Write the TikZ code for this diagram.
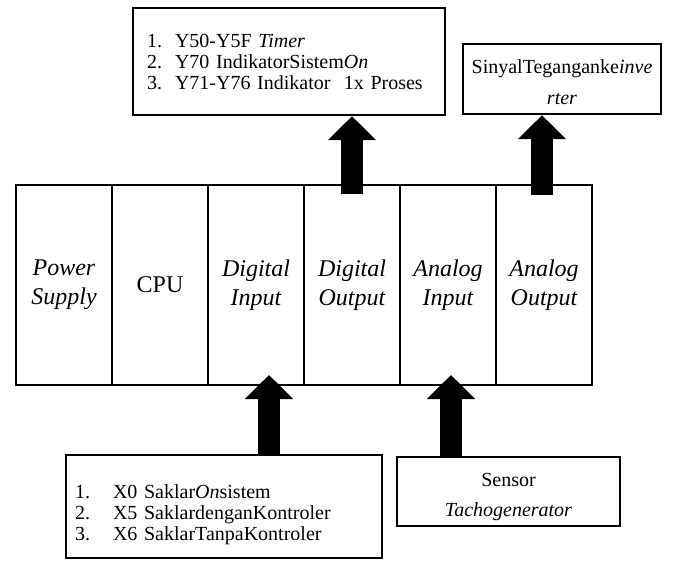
\documentclass[tikz,border=0pt]{standalone}
\usepackage{fontspec}
\setmainfont{Liberation Serif}
\usetikzlibrary{arrows.meta}

\newcommand{\butir}[2]{\makebox[#1][l]{#2}}

\begin{document}
\begin{tikzpicture}[x=1pt, y=-1pt,
    modul/.style={draw, line width=2pt, minimum width=96pt, minimum height=200pt,
      inner sep=0pt, align=center, font=\fontsize{24}{29}\selectfont\itshape},
    kotak/.style={draw, line width=2.5pt, inner sep=0pt, font=\fontsize{20}{21}\selectfont},
    panah/.style={line width=22pt, -{Triangle[width=47pt, length=24pt]}}]

      \useasboundingbox (0,0) rectangle (693,561);

      % modul PLC
      \node[modul] (ps) at (64,285) {Power\\Supply};
      \node[modul, font=\fontsize{24}{29}\selectfont] (cpu) at (160,285) {CPU};
      \node[modul] (di) at (256,285) {Digital\\Input};
      \node[modul] (do) at (352,285) {Digital\\Output};
      \node[modul] (ai) at (448,285) {Analog\\Input};
      \node[modul] (ao) at (544,285) {Analog\\Output};

      % keluaran
      \node[kotak, minimum width=312pt, minimum height=107pt, text width=284pt, align=left] (keluar) at (289,61.5)
        {\butir{28pt}{1.}Y50-Y5F \textit{Timer}\\
         \butir{28pt}{2.}Y70 IndikatorSistem\textit{On}\\
         \butir{28pt}{3.}Y71-Y76 Indikator\ \ 1x Proses};
      \node[kotak, minimum width=198pt, minimum height=70pt, align=center, font=\fontsize{20}{31}\selectfont] (sinyal) at (562,79)
        {\rule{0pt}{20pt}SinyalTeganganke\textit{inve}\\\textit{rter}};

      % masukan
      \node[kotak, minimum width=316pt, minimum height=103pt, text width=298pt, align=left] (masuk) at (224,506.5)
        {\rule{0pt}{30pt}\butir{38pt}{1.}X0 Saklar\textit{On}sistem\\
         \butir{38pt}{2.}X5 SaklardenganKontroler\\
         \butir{38pt}{3.}X6 SaklarTanpaKontroler};
      \node[kotak, minimum width=223pt, minimum height=69pt, align=center, font=\fontsize{20}{30}\selectfont] (sensor) at (508.5,491.5)
        {\rule{0pt}{24pt}Sensor\\\textit{Tachogenerator}};

      % panah
      \coordinate (pdo) at (352,194);
      \coordinate (pao) at (542,195);
      \coordinate (pdi) at (269,375);
      \coordinate (pai) at (451,375);
      \draw[panah] (pdo) -- (pdo |- keluar.south);
      \draw[panah] (pao) -- (pao |- sinyal.south);
      \draw[panah] (masuk.north -| pdi) -- (pdi);
      \draw[panah] (sensor.north -| pai) -- (pai);

    \end{tikzpicture}
\end{document}
